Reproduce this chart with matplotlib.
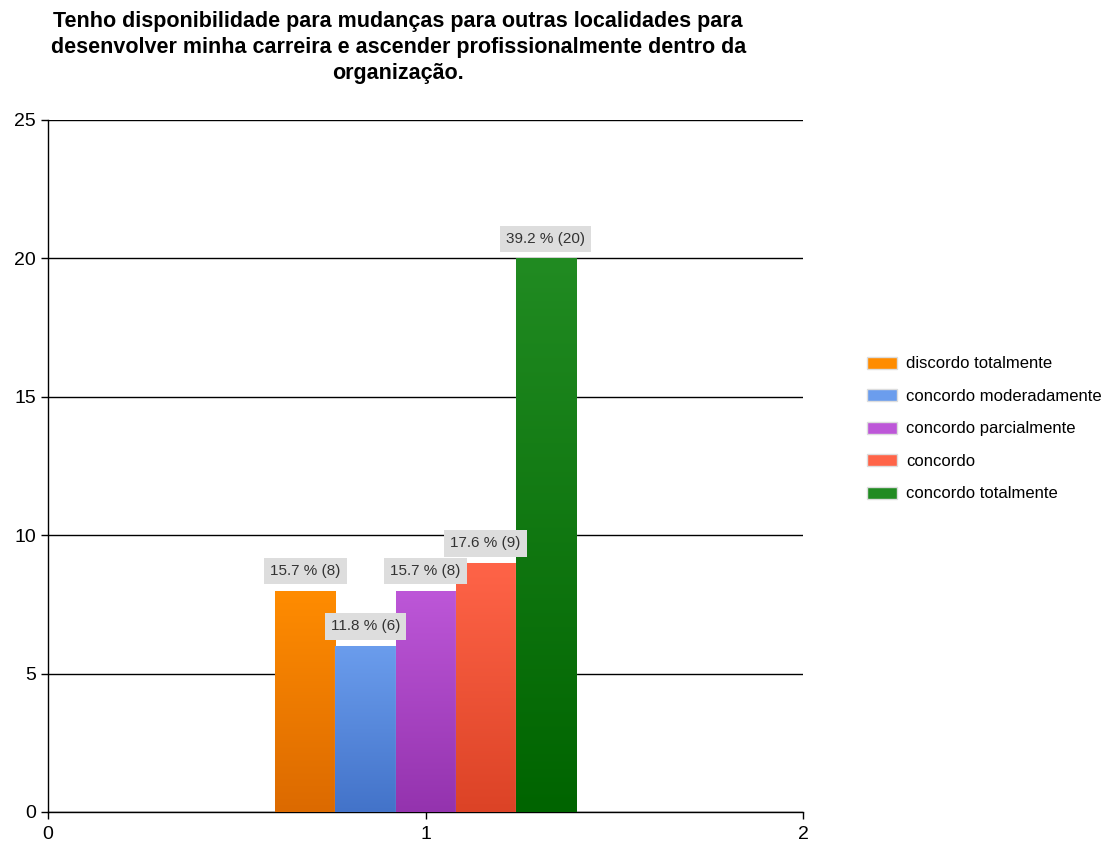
import numpy as np
import matplotlib.pyplot as plt
from matplotlib.patches import Patch
from matplotlib.colors import LinearSegmentedColormap

plt.rcParams['font.family'] = ['Liberation Sans', 'DejaVu Sans']

title = ('Tenho disponibilidade para mudanças para outras localidades para\n'
         'desenvolver minha carreira e ascender profissionalmente dentro da\n'
         'organização.')
categories = ['discordo totalmente', 'concordo moderadamente', 'concordo parcialmente',
              'concordo', 'concordo totalmente']
counts = [8, 6, 8, 9, 20]
percents = [15.7, 11.8, 15.7, 17.6, 39.2]
# (top colour, bottom colour) of each gradient bar
colors = [('#ff8c00', '#dc6a00'), ('#6b9ded', '#4373c9'), ('#bd57d8', '#9433ae'),
          ('#ff6448', '#dc4326'), ('#218b22', '#006400')]

fig = plt.figure(figsize=(11.06, 8.43), dpi=100)
ax = fig.add_axes([0.0434, 0.0368, 0.6827, 0.8209])

width = 0.159
n = len(counts)
xs = 1 + (np.arange(n) - (n - 1) / 2) * width

grad = np.linspace(0, 1, 256).reshape(-1, 1)
for x, c, p, (top, bot) in zip(xs, counts, percents, colors):
    bar = ax.bar(x, c, width=width, color=top, edgecolor='#f4f4f4', linewidth=0.8, zorder=3)[0]
    cmap = LinearSegmentedColormap.from_list('g', [bot, top])
    im = ax.imshow(grad, cmap=cmap, aspect='auto', origin='lower',
                   extent=(x - width / 2, x + width / 2, 0, c), zorder=3)
    im.set_clip_path(bar)
    ax.annotate(f'{p} % ({c})', (x, c), xytext=(0, 14), textcoords='offset points',
                ha='center', va='center', fontsize=11, color='#333333', zorder=5,
                bbox=dict(boxstyle='square,pad=0.4', fc='#dddddd', ec='none'))

ax.set_xlim(0, 2)
ax.set_ylim(0, 25)
ax.set_xticks([0, 1, 2])
ax.set_yticks([0, 5, 10, 15, 20, 25])
ax.yaxis.grid(True, color='black', linewidth=1, zorder=0)
ax.set_axisbelow(True)
for s in ['top', 'right']:
    ax.spines[s].set_visible(False)
ax.spines['left'].set_linewidth(1)
ax.spines['bottom'].set_linewidth(1)
ax.tick_params(axis='both', labelsize=14, color='black', length=5, width=1)
ax.tick_params(axis='x', pad=5)

fig.text(0.36, 0.944, title, ha='center', va='center', fontsize=15.5, fontweight='bold',
         linespacing=1.32)

handles = [Patch(facecolor=top, edgecolor='#dddddd', label=cat)
           for cat, (top, bot) in zip(categories, colors)]
fig.legend(handles=handles, loc='upper left', bbox_to_anchor=(0.770, 0.595), frameon=False,
           fontsize=12, handlelength=1.8, handleheight=0.72, labelspacing=1.05,
           handletextpad=0.55)

fig.savefig('out.png', dpi=100)
